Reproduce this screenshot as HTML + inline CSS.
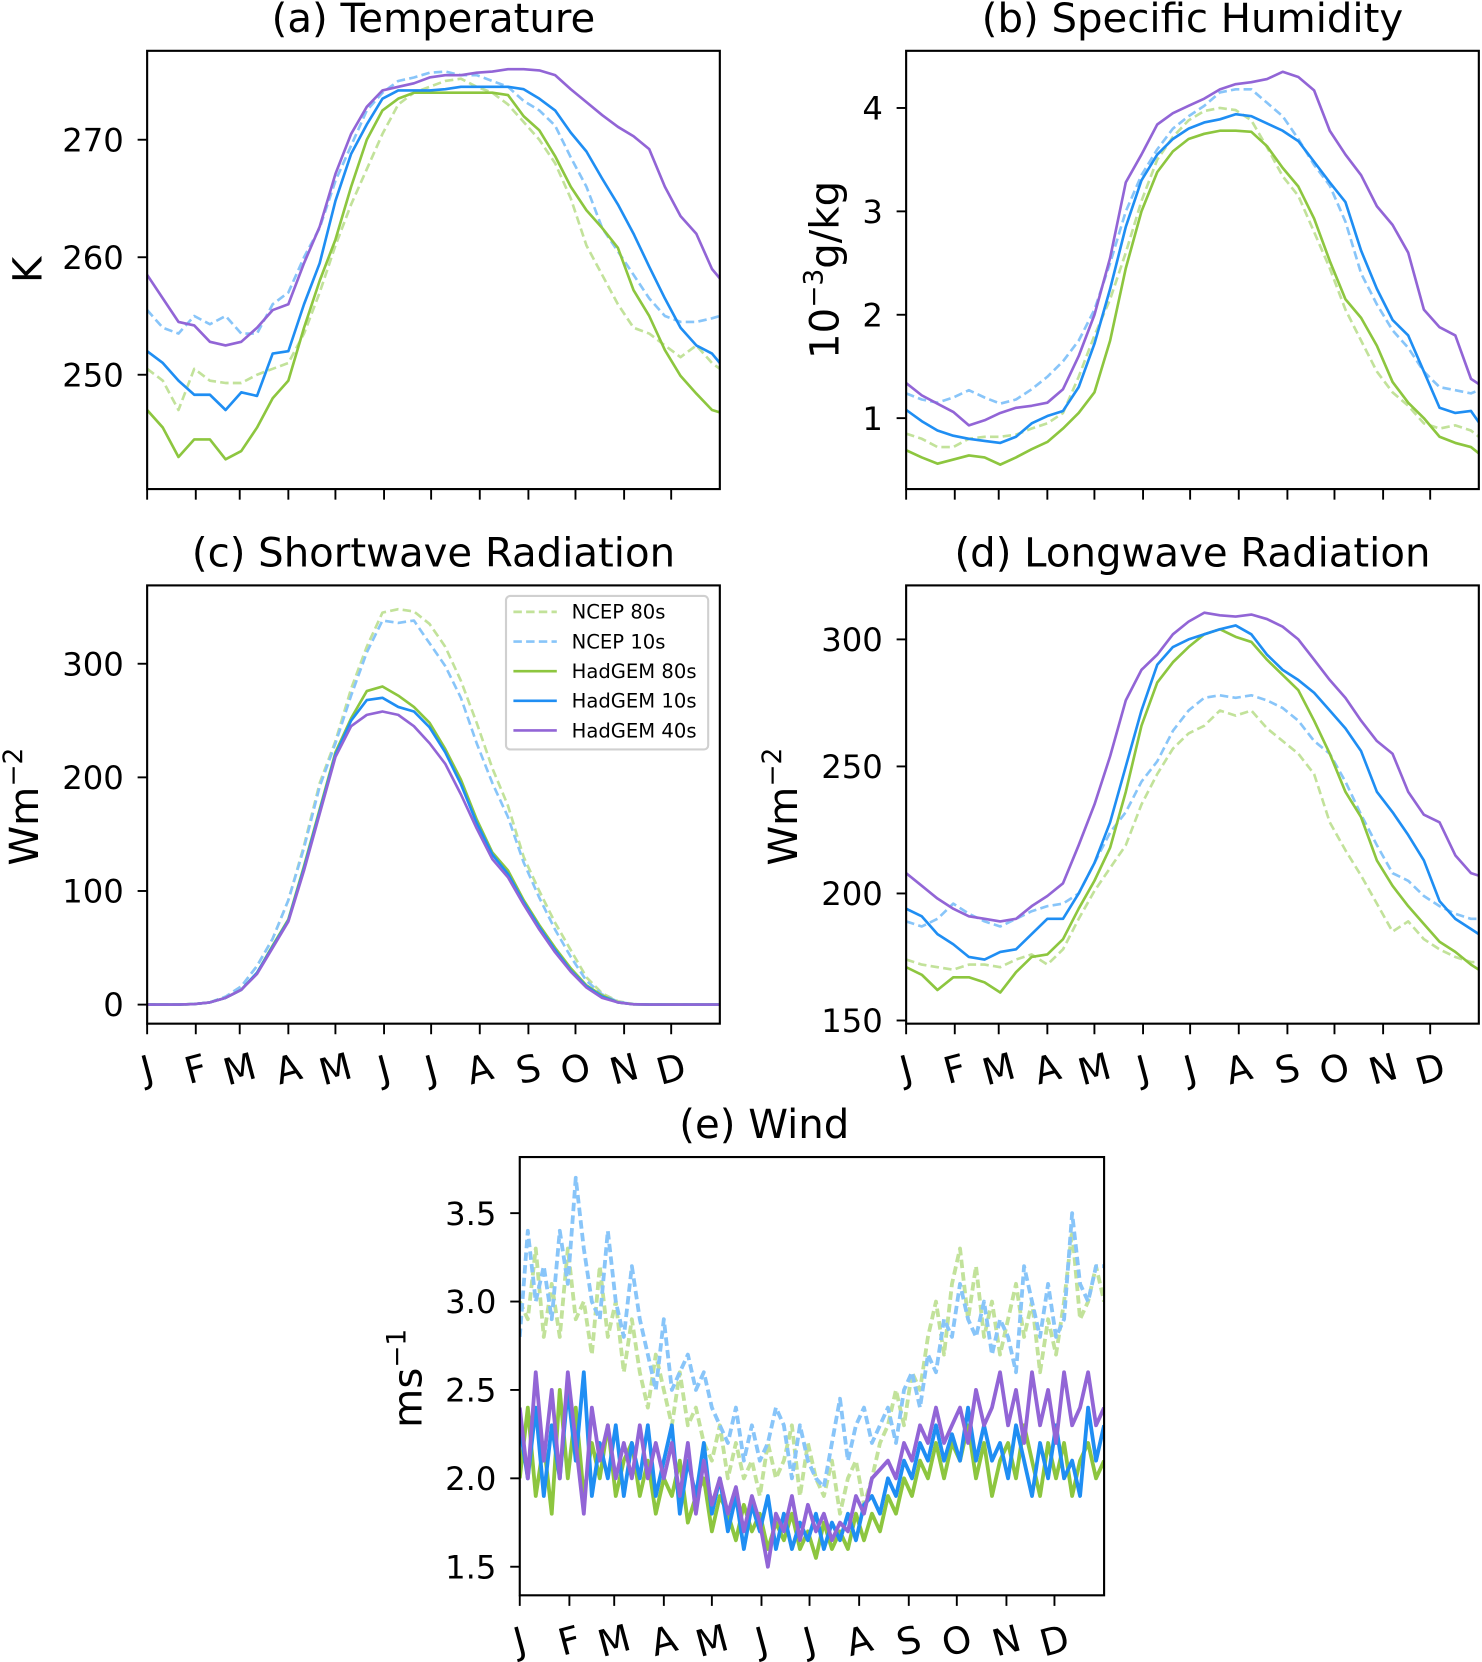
<!DOCTYPE html>
<html><head><meta charset="utf-8"><title>Climate panels</title>
<style>
html,body{margin:0;padding:0;background:#fff;}
svg{display:block;font-family:"DejaVu Sans","Liberation Sans",sans-serif;}
</style></head>
<body>
<svg id="fig" width="1482" height="1662" viewBox="0 0 1400 1570" preserveAspectRatio="none" xmlns="http://www.w3.org/2000/svg">
<rect x="0" y="0" width="1400" height="1570" fill="#fff"/>
</svg>
<script>
// ---------- DATA ----------
const months = ["J","F","M","A","M","J","J","A","S","O","N","D"];
const monthStartDays = [0,31,59,90,120,151,181,212,243,273,304,334];
const seriesNames = ["NCEP 80s","NCEP 10s","HadGEM 80s","HadGEM 10s","HadGEM 40s"];

// Temperature (K), every 10 days + day 365
const tempN80 = [250.5,249.5,247,250.5,249.5,249.3,249.3,250,250.5,251,253.5,257,261,264.5,267.5,270.5,273,274,274.5,275,275.2,274.5,274,273,271.5,270,268,265,261,258.5,256,254,253.5,252.5,251.5,252.5,251,250.5];
const tempN10 = [255.5,254,253.5,255,254.3,255,253.5,253.5,256,257,260,262.5,266.5,269.5,272.5,274,275,275.3,275.7,275.8,275.5,275.5,275,274.5,273.3,272.5,271.2,268.5,266,262.5,260.5,258.5,256.5,255,254.5,254.5,254.8,255];
const tempH80 = [247,245.5,243,244.5,244.5,242.8,243.5,245.5,248,249.5,254,258,261.5,266,270,272.5,273.5,274,274,274,274,274,274,273.8,272,270.8,268.6,266,264,262.5,260.8,257.2,255,252.1,249.9,248.4,247,246.8];
const tempH10 = [252,251,249.5,248.3,248.3,247,248.5,248.2,251.8,252,256,259.5,264.8,268.8,271.3,273.5,274.2,274.2,274.2,274.3,274.5,274.5,274.5,274.5,274.3,273.5,272.5,270.6,269,266.7,264.5,262,259.2,256.5,254,252.5,251.8,251];
const tempH40 = [258.5,256.5,254.5,254.2,252.8,252.5,252.8,254,255.5,256,259.5,262.6,267.1,270.5,272.8,274.2,274.5,274.8,275.3,275.5,275.5,275.7,275.8,276,276,275.9,275.5,274.3,273.2,272.1,271.1,270.3,269.2,266,263.5,262,259,258.2];

// Specific humidity (1e-3 g/kg)
const humN80 = [0.85,0.8,0.72,0.72,0.8,0.82,0.82,0.84,0.9,0.95,1.05,1.4,1.8,2.15,2.6,3.1,3.5,3.72,3.88,3.97,4.0,3.98,3.88,3.62,3.34,3.15,2.8,2.45,2.05,1.75,1.45,1.25,1.12,0.95,0.9,0.93,0.88,0.82];
const humN10 = [1.24,1.18,1.15,1.2,1.27,1.2,1.14,1.18,1.28,1.4,1.55,1.75,2.05,2.5,3.0,3.35,3.6,3.8,3.92,4.02,4.15,4.18,4.18,4.05,3.92,3.7,3.45,3.25,2.9,2.4,2.1,1.85,1.68,1.45,1.3,1.27,1.24,1.27];
const humH80 = [0.69,0.62,0.56,0.6,0.64,0.62,0.55,0.62,0.7,0.77,0.9,1.05,1.25,1.75,2.45,3.0,3.38,3.58,3.7,3.75,3.78,3.78,3.77,3.63,3.42,3.24,2.93,2.52,2.15,1.97,1.7,1.35,1.15,1.0,0.82,0.76,0.72,0.66];
const humH10 = [1.08,0.97,0.88,0.83,0.8,0.78,0.76,0.82,0.95,1.02,1.07,1.3,1.72,2.25,2.85,3.3,3.55,3.7,3.8,3.86,3.89,3.94,3.92,3.85,3.78,3.68,3.48,3.28,3.09,2.62,2.25,1.95,1.8,1.45,1.1,1.05,1.07,0.96];
const humH40 = [1.34,1.22,1.14,1.06,0.93,0.98,1.05,1.1,1.12,1.15,1.28,1.6,2.0,2.55,3.28,3.55,3.84,3.95,4.02,4.09,4.18,4.23,4.25,4.28,4.35,4.3,4.17,3.78,3.55,3.35,3.05,2.87,2.6,2.05,1.88,1.8,1.38,1.33];

// Shortwave (W m-2)
const swN80 = [0,0,0,0.5,2,7,16,34,58,92,140,195,232,278,315,345,348,346,335,315,285,248,208,175,130,100,72,48,24,10,3,0.5,0,0,0,0,0,0];
const swN10 = [0,0,0,0.5,2,7,16,34,58,92,138,192,230,272,310,338,336,338,318,298,270,230,195,165,125,94,66,42,21,9,2.5,0.4,0,0,0,0,0,0];
const swH80 = [0,0,0,0.5,2,6,13,28,52,75,122,172,222,252,276,280,272,262,248,225,198,163,134,118,92,70,50,32,17,8,2,0.3,0,0,0,0,0,0];
const swH10 = [0,0,0,0.5,2,6,13,28,51,74,120,170,220,250,268,270,262,258,244,222,194,160,132,115,90,68,48,30,16,7,2,0.3,0,0,0,0,0,0];
const swH40 = [0,0,0,0.5,2,6,13,27,50,73,118,168,218,245,255,258,255,245,230,212,185,155,128,112,88,66,46,29,15,6,2,0.3,0,0,0,0,0,0];

// Longwave (W m-2)
const lwN80 = [174,172,171,170,172,172,171,174,176,172,178,190,201,210,219,235,247,257,263,266,272,270,272,265,260,255,247,228,217,207,196,185,189,182,178,175,173,173];
const lwN10 = [189,187,190,196,192,189,187,190,193,195,196,200,212,224,232,244,252,264,272,277,278,277,278,276,273,268,260,255,244,231,219,208,205,199,195,192,190,190];
const lwH80 = [171,168,162,167,167,165,161,169,175,176,182,194,205,218,240,266,283,291,297,302,304,301,299,292,286,280,268,255,240,230,213,203,195,188,181,177,172,170];
const lwH10 = [194,191,184,180,175,174,177,178,184,190,190,200,212,228,250,272,290,297,300,302,304,305.5,302,294,288,284,279,272,265,256,240,232,223,213,197,190,186,184];
const lwH40 = [208,203,198,194,191,190,189,190,195,199,204,219,235,254,276,288,294,302,307,310.5,309.5,309,309.8,308,305,300,292,284,277,268,260,255,240,231,228,215,208,207];

// Wind (m s-1), every 5 days
const windN80 = [3.0,2.9,3.3,2.8,3.1,2.8,3.3,2.9,3.0,2.7,3.2,2.8,3.0,2.6,2.9,2.6,2.4,2.7,2.5,2.3,2.6,2.3,2.4,2.2,2.1,2.3,2.0,2.2,2.0,2.1,1.9,2.2,2.0,2.1,2.3,1.9,2.2,2.0,1.9,2.1,1.8,2.0,2.1,1.85,2.0,2.2,2.3,2.5,2.3,2.6,2.5,2.8,3.0,2.7,3.1,3.3,2.9,3.2,2.8,3.0,2.7,2.9,3.1,2.8,3.0,2.6,2.9,2.7,3.0,3.4,2.9,3.0,3.2,3.0];
const windN10 = [2.8,3.4,3.0,3.2,2.9,3.4,3.1,3.7,3.3,3.0,2.9,3.4,3.0,2.8,3.2,2.9,2.7,2.5,2.9,2.5,2.6,2.7,2.5,2.6,2.4,2.3,2.2,2.4,2.1,2.3,2.1,2.2,2.4,2.3,2.0,2.3,2.1,2.0,1.95,2.2,2.45,2.1,2.3,2.4,2.2,2.3,2.4,2.2,2.5,2.6,2.4,2.7,2.6,2.9,2.8,3.1,2.9,2.8,3.0,2.7,2.9,2.8,2.6,3.2,3.0,2.8,3.1,2.8,2.9,3.5,3.1,3.0,3.2,3.2];
const windH80 = [2.0,2.4,1.9,2.2,1.8,2.5,2.0,2.4,1.9,2.2,2.0,2.3,1.9,2.1,2.2,1.9,2.1,1.8,2.0,1.9,2.1,1.75,1.9,2.0,1.7,1.9,1.8,1.65,1.85,1.7,1.8,1.6,1.75,1.65,1.8,1.6,1.7,1.55,1.75,1.6,1.7,1.6,1.8,1.65,1.8,1.7,1.9,1.8,2.0,1.9,2.1,2.0,2.2,2.0,2.2,2.1,2.3,2.0,2.2,1.9,2.1,2.2,2.0,2.3,2.1,1.9,2.2,2.0,2.2,1.9,2.1,2.2,2.0,2.1];
const windH10 = [2.3,2.0,2.4,1.9,2.3,2.0,2.5,2.1,2.6,1.9,2.2,2.0,2.3,1.9,2.2,2.0,2.3,1.9,2.1,2.3,1.8,2.1,1.9,2.2,1.8,2.0,1.7,1.9,1.6,1.85,1.7,1.9,1.6,1.8,1.6,1.75,1.65,1.8,1.6,1.75,1.65,1.8,1.65,1.85,1.9,1.8,2.0,1.9,2.1,2.0,2.2,2.1,2.3,2.1,2.25,2.1,2.4,2.1,2.3,2.1,2.2,2.0,2.3,2.1,1.9,2.2,2.0,2.3,2.0,2.1,1.9,2.4,2.1,2.3];
const windH40 = [2.4,2.0,2.6,2.1,2.5,2.0,2.6,2.2,1.8,2.4,2.1,2.3,2.0,2.2,2.0,2.3,2.0,2.2,2.0,2.2,1.9,2.2,1.8,2.1,1.85,2.0,1.8,1.95,1.7,1.9,1.75,1.5,1.8,1.7,1.9,1.65,1.85,1.7,1.8,1.65,1.75,1.7,1.9,1.8,2.0,2.05,2.1,2.0,2.2,2.1,2.3,2.2,2.4,2.2,2.3,2.4,2.2,2.5,2.3,2.4,2.6,2.3,2.5,2.2,2.6,2.3,2.5,2.2,2.6,2.3,2.4,2.6,2.3,2.4];

// Tick labels
const tempTicks = [250,260,270];
const humTicks = [1,2,3,4];
const swTicks = [0,100,200,300];
const lwTicks = [150,200,250,300];
const windTicks = [1.5,2.0,2.5,3.0,3.5];

// ---------- DRAWING ----------
const NS = "http://www.w3.org/2000/svg";
const svg = document.getElementById('fig');
const colors = ["#c2e29a","#88c5f9","#8dc63f","#1f8ef3","#9265d6"];
const dashed = [true,true,false,false,false];

function mk(tag, attrs, parent){
  const e = document.createElementNS(NS, tag);
  for (const k in attrs) e.setAttribute(k, attrs[k]);
  (parent||svg).appendChild(e);
  return e;
}

function panel(cfg){
  const g = mk('g', {});
  
  
  const {x0,x1,y0,y1} = cfg.box;
  const xs = d => x0 + d/365*(x1-x0);
  const ys = v => cfg.ref[0][1] + (v - cfg.ref[0][0])*(cfg.ref[1][1]-cfg.ref[0][1])/(cfg.ref[1][0]-cfg.ref[0][0]);
  const cid = 'clip-' + cfg.name;
  const defs = mk('defs', {}, g);
  const cp = mk('clipPath', {id: cid}, defs);
  mk('rect', {x:x0, y:y0, width:x1-x0, height:y1-y0}, cp);
  const lg = mk('g', {'clip-path':'url(#'+cid+')'}, g);
  cfg.series.forEach((arr, si) => {
    const n = arr.length;
    let d = '';
    arr.forEach((v, i) => {
      const day = cfg.step ? Math.min(i*cfg.step, 365) : i*365/(n-1);
      d += (i ? 'L' : 'M') + xs(day).toFixed(1) + ' ' + ys(v).toFixed(1);
    });
    const p = mk('path', {d:d, fill:'none', stroke:colors[si], 'stroke-width':cfg.lw, 'stroke-linejoin':'round'}, lg);
    if (dashed[si]) p.setAttribute('stroke-dasharray', cfg.dash);
    
    
  });
  const fr = mk('rect', {x:x0, y:y0, width:x1-x0, height:y1-y0, fill:'none', stroke:'#000', 'stroke-width':2}, g);
  
  
  cfg.ticks.forEach(t => {
    const y = ys(t);
    mk('line', {x1:x0-9, x2:x0, y1:y, y2:y, stroke:'#000', 'stroke-width':1.8}, g);
    const tx = mk('text', {x:x0-22, y:y+11, 'text-anchor':'end', 'font-size':30.5, fill:'#000'}, g);
    tx.textContent = cfg.fmt ? t.toFixed(1) : String(t);
    
    
  });
  monthStartDays.forEach((md, i) => {
    const x = xs(md);
    mk('line', {x1:x, x2:x, y1:y1, y2:y1+10, stroke:'#000', 'stroke-width':1.8}, g);
    if (cfg.monthLabels) {
      const tx = mk('text', {x:x, y:y1+55, 'text-anchor':'middle', 'font-size':35, fill:'#000', transform:'rotate(-15 '+x+' '+(y1+43)+')'}, g);
      tx.textContent = months[i];
      
      
    }
  });
  const tcx = cfg.titleX !== undefined ? cfg.titleX : (x0+x1)/2;
  const tt = mk('text', {x:tcx, y:y0-18, 'text-anchor':'middle', 'font-size':38, fill:'#000'}, g);
  tt.textContent = cfg.title;
  
  
  const yl = mk('text', {x:0, y:0, 'text-anchor':'middle', 'font-size':38, fill:'#000', transform:'translate('+cfg.ylab[0]+' '+cfg.ylab[1]+') rotate(-90)'}, g);
  yl.innerHTML = cfg.ylabel;
  
  
  return {g, xs, ys};
}

panel({name:'temperature', box:{x0:139,x1:680,y0:48,y1:462}, ref:[[270,132],[250,354]],
  series:[tempN80,tempN10,tempH80,tempH10,tempH40], step:10, lw:2.5, dash:'8 4',
  ticks:tempTicks, title:'(a) Temperature', ylab:[39,255], ylabel:'K', monthLabels:false});
panel({name:'humidity', box:{x0:856,x1:1397,y0:48,y1:462}, ref:[[4,102],[1,395]],
  series:[humN80,humN10,humH80,humH10,humH40], step:10, lw:2.5, dash:'8 4',
  ticks:humTicks, title:'(b) Specific Humidity', ylab:[792,255], ylabel:'10<tspan font-size="25" dy="-15">−3</tspan><tspan dy="15">g/kg</tspan>', monthLabels:false});
panel({name:'shortwave', box:{x0:139,x1:680,y0:553,y1:967}, ref:[[300,627],[0,949]],
  series:[swN80,swN10,swH80,swH10,swH40], step:10, lw:2.5, dash:'8 4',
  ticks:swTicks, title:'(c) Shortwave Radiation', ylab:[36,762], ylabel:'Wm<tspan font-size="25" dy="-15">−2</tspan>', monthLabels:true});
panel({name:'longwave', box:{x0:856,x1:1397,y0:553,y1:967}, ref:[[300,604],[150,964]],
  series:[lwN80,lwN10,lwH80,lwH10,lwH40], step:10, lw:2.5, dash:'8 4',
  ticks:lwTicks, title:'(d) Longwave Radiation', ylab:[753,762], ylabel:'Wm<tspan font-size="25" dy="-15">−2</tspan>', monthLabels:true});
panel({name:'wind', box:{x0:491,x1:1043,y0:1093,y1:1507}, ref:[[3.5,1146],[1.5,1480]],
  series:[windN80,windN10,windH80,windH10,windH40], step:5, lw:3.6, dash:'8 4',
  ticks:windTicks, fmt:true, title:'(e) Wind', titleX:722, ylab:[398,1302], ylabel:'ms<tspan font-size="25" dy="-15">−1</tspan>', monthLabels:true});

const lg = mk('g', {});


mk('rect', {x:478, y:563, width:191, height:145, rx:4, fill:'#fff', 'fill-opacity':0.85, stroke:'#d0d0d0', 'stroke-width':2}, lg);
seriesNames.forEach((nm, i) => {
  const y = 578 + i*28;
  const ln = mk('line', {x1:485, x2:526, y1:y, y2:y, stroke:colors[i], 'stroke-width':2.5}, lg);
  if (dashed[i]) ln.setAttribute('stroke-dasharray', '8 4');
  
  
  const t = mk('text', {x:540, y:y+6.5, 'font-size':18.5, fill:'#000'}, lg);
  t.textContent = nm;
  
  
});
</script>
</body></html>
